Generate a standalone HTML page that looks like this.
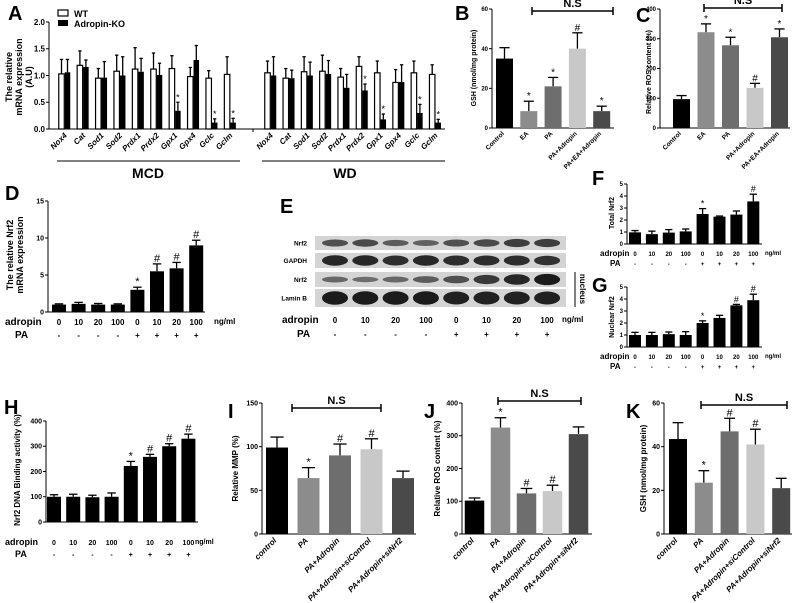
<!DOCTYPE html>
<html><head><meta charset="utf-8">
<style>
html,body{margin:0;padding:0;background:#fff;}
svg{display:block;font-family:"Liberation Sans",Arial,sans-serif;}
text{font-family:"Liberation Sans",Arial,sans-serif;}
</style></head>
<body>
<svg id="fig" width="796" height="603" viewBox="0 0 796 603"></svg>
<script>
// ---------- DATA ----------
const genes = ["Nox4","Cat","Sod1","Sod2","Prdx1","Prdx2","Gpx1","Gpx4","Gclc","Gclm"];
const mcdWT = [1.03,1.19,0.95,1.08,1.12,1.12,1.13,0.98,0.95,1.02];
const mcdWTerr = [0.27,0.27,0.18,0.30,0.40,0.30,0.24,0.17,0.14,0.33];
const mcdKO = [1.06,1.16,0.96,1.00,1.07,1.01,0.34,1.29,0.12,0.12];
const mcdKOerr = [0.24,0.13,0.30,0.35,0.25,0.22,0.16,0.27,0.07,0.08];
const mcdKOmark = ["","","","","","","*","","*","*"];
const wdWT = [1.05,0.95,1.07,1.08,0.97,1.17,1.05,0.87,1.05,1.02];
const wdWTerr = [0.22,0.18,0.28,0.30,0.16,0.18,0.22,0.24,0.22,0.18];
const wdKO = [1.00,0.95,1.00,1.03,0.77,0.72,0.18,0.88,0.30,0.12];
const wdKOerr = [0.35,0.15,0.25,0.25,0.25,0.12,0.10,0.32,0.16,0.06];
const wdKOmark = ["","","","","","*","*","","*","*"];
const aTicks = ["0.0","0.5","1.0","1.5","2.0"];

const bcCats = ["Control","EA","PA","PA+Adropin","PA+EA+Adropin"];
const bVals = [35,8.5,21,40,8.5];
const bErr = [5.5,5,4.5,8,2.5];
const bMarks = ["","*","*","#","*"];
const bTicks = [0,20,40,60];
const cVals = [97,322,278,135,305];
const cErr = [12,28,27,15,28];
const cMarks = ["","*","*","#","*"];
const cTicks = [0,100,200,300,400];

const doses = ["0","10","20","100","0","10","20","100"];
const paSigns = ["-","-","-","-","+","+","+","+"];
const dVals = [1,1.1,1,1,3,5.5,5.9,9];
const dErr = [0.1,0.2,0.15,0.1,0.35,1.0,0.8,0.7];
const dMarks = ["","","","","*","#","#","#"];
const dTicks = [0,5,10,15];
const fVals = [0.97,0.82,0.95,1.05,2.5,2.28,2.45,3.55];
const fErr = [0.15,0.25,0.25,0.2,0.45,0.05,0.3,0.6];
const fMarks = ["","","","","*","","","#"];
const gVals = [1.0,1.0,1.07,1.0,2.0,2.42,3.47,3.9];
const gErr = [0.22,0.22,0.18,0.28,0.18,0.22,0.08,0.5];
const gMarks = ["","","","","*","","#","#"];
const fgTicks = [0,1,2,3,4,5];
const hVals = [100,100,98,100,222,258,300,330];
const hErr = [8,10,8,15,18,10,10,18];
const hMarks = ["","","","","*","#","#","#"];
const hTicks = [0,100,200,300,400];

const ijkCats = ["control","PA","PA+Adropin","PA+Adropin+siControl","PA+Adropin+siNrf2"];
const iVals = [99,64,90,97,64];
const iErr = [12,12,13,12,8];
const iMarks = ["","*","#","#",""];
const iTicks = [0,50,100,150];
const jVals = [102,325,124,131,305];
const jErr = [8,30,15,18,22];
const jMarks = ["","*","#","#",""];
const jTicks = [0,100,200,300,400];
const kVals = [43.5,23.5,47,41,21];
const kErr = [7.5,5.5,6,7,4.5];
const kMarks = ["","*","#","#",""];
const kTicks = [0,20,40,60];

const blotRows = ["Nrf2","GAPDH","Nrf2","Lamin B"];
const blotIntensity = [
 [0.55,0.6,0.45,0.4,0.55,0.6,0.7,0.7],
 [0.9,0.9,0.85,0.9,0.85,0.85,0.85,0.8],
 [0.35,0.3,0.35,0.45,0.55,0.75,0.9,1.0],
 [1,1,1,1,0.95,0.95,0.95,0.95]];

// ---------- HELPERS ----------
const NS="http://www.w3.org/2000/svg";
const svg=document.getElementById('fig');
function mk(tag,attrs,parent){const e=document.createElementNS(NS,tag);for(const k in attrs)e.setAttribute(k,attrs[k]);(parent||svg).appendChild(e);return e;}
function txt(s,x,y,size,opts,parent){opts=opts||{};const a={x:x,y:y,'font-size':size,fill:'#000'};
 if(opts.anchor)a['text-anchor']=opts.anchor;if(opts.bold)a['font-weight']='bold';if(opts.italic)a['font-style']='italic';if(opts.transform)a.transform=opts.transform;
 const t=mk('text',a,parent);t.textContent=s;return t;}

function axis(g,cfg,ticks,labels){
 const sy=v=>cfg.y0-v/cfg.max*(cfg.y0-cfg.yTop);
 const ya=mk('line',{x1:cfg.ax,y1:cfg.y0,x2:cfg.ax,y2:cfg.yTop,stroke:'#000','stroke-width':1},g);
 
 
 const xa=mk('line',{x1:cfg.ax,y1:cfg.y0,x2:cfg.axEnd,y2:cfg.y0,stroke:'#000','stroke-width':1},g);
 
 
 ticks.forEach((t,i)=>{const y=sy(t);
  mk('line',{x1:cfg.ax-3,y1:y,x2:cfg.ax,y2:y,stroke:'#000','stroke-width':1},g);
  const tl=txt(labels?labels[i]:String(t),cfg.ax-4,y+cfg.fs*0.35,cfg.fs,{anchor:'end',bold:true},g);
  
  
 });
 return sy;
}
function bars(g,cfg,sy,vals,errs,marks,colors,outline){
 vals.forEach((v,i)=>{
  const cx=cfg.c0+i*cfg.step, w=cfg.bw;
  const top=sy(v), et=sy(v+errs[i]);
  const el=mk('line',{x1:cx,y1:top,x2:cx,y2:et,stroke:'#000','stroke-width':1.3},g);
  
  
  mk('line',{x1:cx-w*0.3,y1:et,x2:cx+w*0.3,y2:et,stroke:'#000','stroke-width':1.3},g);
  const r=mk('rect',{x:cx-w/2,y:top,width:w,height:cfg.y0-top,fill:colors[i%colors.length],stroke:outline?'#000':'none','stroke-width':outline?1.2:0},g);
  
  
  if(marks&&marks[i]){const m=txt(marks[i],cx,et-2,cfg.ms||10,{anchor:'middle'},g);
   
   }
 });
}
function doseRows(g,cfg,x0,yA,yP,fs,ngx){
 const a=txt('adropin',x0,yA,fs+2,{bold:true},g);
 
 
 const p=txt('PA',x0+cfg.paOff,yP,fs+2,{bold:true},g);
 
 
 doses.forEach((d,i)=>{const cx=cfg.c0+i*cfg.step;
  txt(d,cx,yA,fs,{anchor:'middle',bold:true},g);
  txt(paSigns[i],cx,yP,fs,{anchor:'middle',bold:true},g);});
 const n=txt('ng/ml',ngx,yA-1,fs,{bold:true},g);
 
 
}
function ytitle(g,lines,x,y,fs){
 lines.forEach((l,i)=>{const t=txt(l,x+i*(fs+1),y,fs,{anchor:'middle',bold:true,transform:`rotate(-90 ${x+i*(fs+1)} ${y})`},g);
  
  });
}
function panelLabel(s,x,y){const t=txt(s,x,y,20,{bold:true});
 
 }
function bracket(g,x1,x2,y){
 mk('line',{x1:x1,y1:y,x2:x2,y2:y,stroke:'#000','stroke-width':1.5},g);
 mk('line',{x1:x1,y1:y-4,x2:x1,y2:y+4,stroke:'#000','stroke-width':1.5},g);
 mk('line',{x1:x2,y1:y-4,x2:x2,y2:y+4,stroke:'#000','stroke-width':1.5},g);
 const t=txt('N.S',(x1+x2)/2,y-4,11,{anchor:'middle',bold:true},g);
 
 
}
function rotLabels(g,cats,cfg,y,fs,italic){
 cats.forEach((c,i)=>{const cx=cfg.c0+i*cfg.step+3;
  const t=txt(c,cx,y,fs,{anchor:'end',bold:true,italic:italic,transform:`rotate(-45 ${cx} ${y})`},g);
  
  });
}
const grays=['#000','#8c8c8c','#6e6e6e','#c8c8c8','#4a4a4a'];

// ---------- PANEL A ----------
(function(){
 const g=mk('g',{});
 panelLabel('A',8,20);
 const cfg={ax:49,axEnd:445,y0:129,yTop:22,max:2,fs:8};
 const sy=axis(g,cfg,[0,0.5,1,1.5,2],aTicks);
 mk('line',{x1:253,y1:129,x2:253,y2:132,stroke:'#000'},g);
 const m1={c0:61.5,step:18.4,bw:5.5,ms:9}, m2={c0:67.5,step:18.4,bw:5.5,ms:9};
 const w1={c0:267.5,step:18.3,bw:5.5,ms:9}, w2={c0:273.5,step:18.3,bw:5.5,ms:9};
 bars(g,Object.assign({},cfg,m1),sy,mcdWT,mcdWTerr,null,['#fff'],true);
 bars(g,Object.assign({},cfg,m2),sy,mcdKO,mcdKOerr,mcdKOmark,['#000'],false);
 bars(g,Object.assign({},cfg,w1),sy,wdWT,wdWTerr,null,['#fff'],true);
 bars(g,Object.assign({},cfg,w2),sy,wdKO,wdKOerr,wdKOmark,['#000'],false);
 rotLabels(g,genes,{c0:64.5,step:18.4},136,8,true);
 rotLabels(g,genes,{c0:270.5,step:18.3},136,8,true);
 mk('line',{x1:57,y1:161,x2:240,y2:161,stroke:'#000'},g);
 mk('line',{x1:262,y1:161,x2:445,y2:161,stroke:'#000'},g);
 const t1=txt('MCD',148,178,14,{anchor:'middle',bold:true},g);
 const t2=txt('WD',345,178,14,{anchor:'middle',bold:true},g);
 ytitle(g,['The relative','mRNA expression','(A.U)'],12,77,9);
 const l1=mk('rect',{x:58,y:10,width:10,height:6,fill:'#fff',stroke:'#000','stroke-width':1.2},g);
 
 const l2=mk('rect',{x:58,y:20,width:10,height:6,fill:'#000'},g);
 
 const lt1=txt('WT',74,17,9,{bold:true},g);
 const lt2=txt('Adropin-KO',74,27,9,{bold:true},g);
})();

// ---------- PANEL B ----------
(function(){
 const g=mk('g',{});
 panelLabel('B',455,20);
 const cfg={ax:492,axEnd:614,y0:128,yTop:9,max:60,fs:6,c0:504.5,step:24.3,bw:17,ms:10};
 const sy=axis(g,cfg,bTicks);
 bars(g,cfg,sy,bVals,bErr,bMarks,grays,false);
 rotLabels(g,bcCats,{c0:501.5,step:24.3},134,6.5,false);
 ytitle(g,['GSH (nmol/mg protein)'],476,68,7);
 bracket(g,532,613,11);
})();

// ---------- PANEL C ----------
(function(){
 const g=mk('g',{});
 panelLabel('C',636,22);
 const cfg={ax:660,axEnd:790,y0:128,yTop:9,max:400,fs:6,c0:681.5,step:24.5,bw:17,ms:10};
 const sy=axis(g,cfg,cTicks);
 bars(g,cfg,sy,cVals,cErr,cMarks,grays,false);
 rotLabels(g,bcCats,{c0:678.5,step:24.5},134,6.5,false);
 ytitle(g,['Relative ROS content (%)'],651,72,7);
 bracket(g,704,782,8);
})();

// ---------- PANEL D ----------
(function(){
 const g=mk('g',{});
 panelLabel('D',5,200);
 const cfg={ax:48,axEnd:205,y0:312,yTop:201,max:15,fs:7,c0:59,step:19.6,bw:14,ms:11,paOff:10};
 const sy=axis(g,cfg,dTicks);
 bars(g,cfg,sy,dVals,dErr,dMarks,['#000'],false);
 doseRows(g,cfg,5,325,338,8,214);
 ytitle(g,['The relative Nrf2','mRNA expression'],13,255,9);
})();

// ---------- PANEL E (blot) ----------
(function(){
 const g=mk('g',{});
 panelLabel('E',280,213);
 const rows=[[236,14],[253,15],[272,15],[289,18]];
 const lanes={c0:335,step:30.3};
 rows.forEach((r,ri)=>{
  const bg=mk('rect',{x:315,y:r[0],width:251,height:r[1],fill:'#d4d4d4'},g);
  
  
  const lb=txt(blotRows[ri],307,r[0]+r[1]/2+2.5,6.5,{anchor:'end',bold:true},g);
  
  
  blotIntensity[ri].forEach((v,i)=>{
   const cx=lanes.c0+i*lanes.step;
   const h=r[1]*(0.2+0.55*v);
   const b=mk('ellipse',{cx:cx,cy:r[0]+r[1]/2,rx:13,ry:h/2,fill:'#111','fill-opacity':0.35+0.6*v},g);
   
   
  });
 });
 mk('line',{x1:575,y1:272,x2:575,y2:307,stroke:'#000','stroke-width':1},g);
 const nt=txt('nucleus',580,289,8,{anchor:'middle',bold:true,transform:'rotate(90 580 289)'},g);
 
 const ecfg={c0:335,step:30.3,paOff:15};
 doseRows(g,ecfg,282,323,337,8,562);
})();

// ---------- PANEL F ----------
(function(){
 const g=mk('g',{});
 panelLabel('F',592,185);
 const cfg={ax:627,axEnd:762,y0:244,yTop:184,max:5,fs:6,c0:635,step:16.9,bw:12,ms:9,paOff:10};
 const sy=axis(g,cfg,fgTicks);
 bars(g,cfg,sy,fVals,fErr,fMarks,['#000'],false);
 doseRows(g,cfg,600,256,266,6,765);
 ytitle(g,['Total Nrf2'],614,213,7);
})();

// ---------- PANEL G ----------
(function(){
 const g=mk('g',{});
 panelLabel('G',592,292);
 const cfg={ax:627,axEnd:762,y0:347,yTop:287,max:5,fs:6,c0:635,step:16.9,bw:12,ms:9,paOff:10};
 const sy=axis(g,cfg,fgTicks);
 bars(g,cfg,sy,gVals,gErr,gMarks,['#000'],false);
 doseRows(g,cfg,600,359,369,6,765);
 ytitle(g,['Nuclear Nrf2'],614,317,7);
})();

// ---------- PANEL H ----------
(function(){
 const g=mk('g',{});
 panelLabel('H',4,414);
 const cfg={ax:46,axEnd:198,y0:522,yTop:421,max:400,fs:7,c0:54,step:19.2,bw:14,ms:11,paOff:10};
 const sy=axis(g,cfg,hTicks);
 bars(g,cfg,sy,hVals,hErr,hMarks,['#000'],false);
 doseRows(g,cfg,5,545,557,7,195);
 ytitle(g,['Nrf2 DNA Binding activity (%)'],20,470,8);
})();

// ---------- PANELS I, J, K ----------
function ijk(name,label,lx,cfg,vals,errs,marks,ticks,title,tx,br){
 const g=mk('g',{});
 panelLabel(label,lx,418);
 const sy=axis(g,cfg,ticks);
 bars(g,cfg,sy,vals,errs,marks,grays,false);
 rotLabels(g,ijkCats,{c0:cfg.c0-3,step:cfg.step},541,8,true);
 ytitle(g,[title],tx,(cfg.y0+cfg.yTop)/2,8);
 bracket(g,br[0],br[1],br[2]);
}
ijk('panel-i','I',228,{ax:262,axEnd:416,y0:534,yTop:403,max:150,fs:7,c0:277,step:31.5,bw:22,ms:11},iVals,iErr,iMarks,iTicks,'Relative MMP (%)',238,[292,381,408]);
ijk('panel-j','J',424,{ax:462,axEnd:592,y0:534,yTop:403,max:400,fs:7,c0:474.5,step:26,bw:19.5,ms:11},jVals,jErr,jMarks,jTicks,'Relative ROS content (%)',440,[498,581,401]);
ijk('panel-k','K',626,{ax:664,axEnd:792,y0:534,yTop:403,max:60,fs:7,c0:678,step:25.8,bw:18,ms:11},kVals,kErr,kMarks,kTicks,'GSH (nmol/mg protein)',646,[701,787,405]);
</script>
</body></html>
